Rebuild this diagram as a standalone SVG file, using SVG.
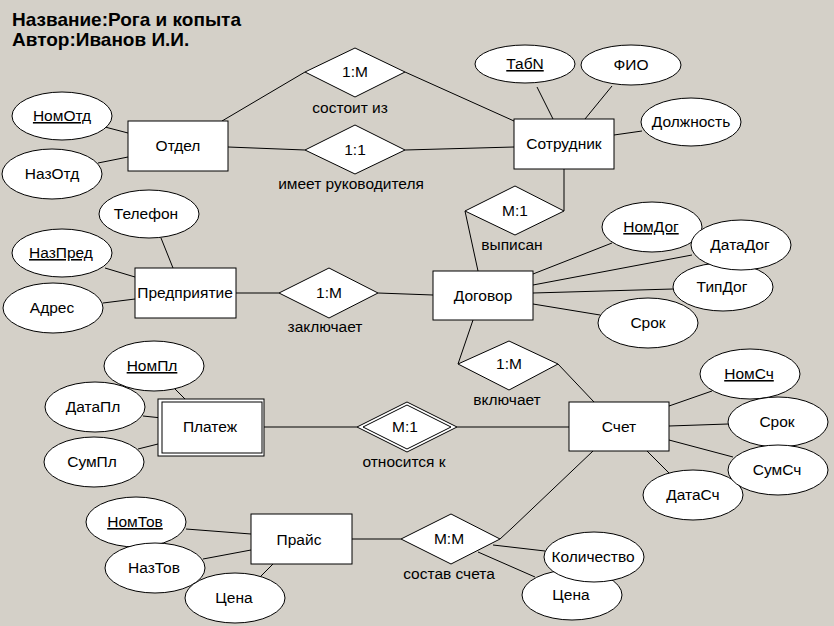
<svg xmlns="http://www.w3.org/2000/svg" width="834" height="626" viewBox="0 0 834 626">
<style>
  .bg{fill:#d4d0c8}
  .ent{fill:#ffffff;stroke:#000;stroke-width:1}
  .attr{fill:#ffffff;stroke:#000;stroke-width:1}
  .rel{fill:#ffffff;stroke:#000;stroke-width:1}
  .conn line,.conn polyline{stroke:#000;stroke-width:1;fill:none}
  text{font-family:"Liberation Sans",Arial,sans-serif;font-size:15.5px;fill:#000}
  .c{text-anchor:middle}
  .key{text-decoration:underline}
  .title{font-size:19px;font-weight:bold}
</style>
<rect class="bg" x="0" y="0" width="834" height="626"/>
<g id="title">
  <text class="title" x="12" y="26">Название:Рога и копыта</text>
  <text class="title" x="12" y="46">Автор:Иванов И.И.</text>
</g>
<g class="conn" id="connectors">
  <line x1="105" y1="127" x2="128" y2="133"/>
  <line x1="98" y1="163" x2="128" y2="157"/>
  <line x1="222" y1="121" x2="305" y2="72"/>
  <line x1="228" y1="147" x2="305" y2="150"/>
  <line x1="405" y1="72" x2="514" y2="121"/>
  <line x1="405" y1="150" x2="514" y2="147"/>
  <line x1="537" y1="87" x2="553" y2="119"/>
  <line x1="612" y1="86" x2="585" y2="119"/>
  <line x1="614" y1="135" x2="642" y2="131"/>
  <polyline points="564,169 564,211"/>
  <line x1="465" y1="211" x2="478" y2="271"/>
  <line x1="533" y1="274" x2="612" y2="243"/>
  <line x1="533" y1="285" x2="692" y2="255"/>
  <line x1="533" y1="293" x2="673" y2="289"/>
  <line x1="533" y1="304" x2="600" y2="315"/>
  <line x1="161" y1="238" x2="173" y2="268"/>
  <line x1="105" y1="268" x2="135" y2="277"/>
  <line x1="103" y1="303" x2="135" y2="299"/>
  <line x1="236" y1="293" x2="279" y2="293"/>
  <line x1="378" y1="293" x2="433" y2="295"/>
  <line x1="473" y1="320" x2="458" y2="364"/>
  <line x1="558" y1="364" x2="594" y2="402"/>
  <line x1="175" y1="389" x2="188" y2="402"/>
  <line x1="143" y1="416" x2="162" y2="418"/>
  <line x1="138" y1="449" x2="162" y2="443"/>
  <line x1="264" y1="427" x2="357" y2="427"/>
  <line x1="457" y1="427" x2="569" y2="427"/>
  <line x1="669" y1="406" x2="712" y2="391"/>
  <line x1="669" y1="426" x2="728" y2="424"/>
  <line x1="669" y1="440" x2="733" y2="457"/>
  <line x1="647" y1="451" x2="669" y2="473"/>
  <line x1="186" y1="529" x2="251" y2="534"/>
  <line x1="203" y1="559" x2="251" y2="550"/>
  <line x1="260" y1="577" x2="273" y2="564"/>
  <line x1="352" y1="539" x2="401" y2="539"/>
  <polyline points="500,539 512,528 593,451"/>
  <line x1="493" y1="545" x2="545" y2="551"/>
  <line x1="478" y1="552" x2="535" y2="577"/>
</g>
<g id="otdel">
  <rect class="ent" x="128" y="121" width="100" height="50"/>
  <text class="c" x="178" y="151">Отдел</text>
</g>
<g id="nomotd">
  <ellipse class="attr" cx="62" cy="116" rx="50" ry="24"/>
  <text class="c key" x="62" y="121">НомОтд</text>
</g>
<g id="nazotd">
  <ellipse class="attr" cx="52" cy="174" rx="50" ry="25"/>
  <text class="c" x="52" y="179">НазОтд</text>
</g>
<g id="rel-sostoit">
  <polygon class="rel" points="305,72 355,48 405,72 355,97"/>
  <text class="c" x="355" y="77">1:M</text>
  <text class="c" x="350" y="113">состоит из</text>
</g>
<g id="rel-rukov">
  <polygon class="rel" points="305,150 355,125 405,150 355,174"/>
  <text class="c" x="355" y="155">1:1</text>
  <text class="c" x="351" y="189">имеет руководителя</text>
</g>
<g id="sotrudnik">
  <rect class="ent" x="514" y="119" width="100" height="50"/>
  <text class="c" x="564" y="149">Сотрудник</text>
</g>
<g id="tabn">
  <ellipse class="attr" cx="525" cy="64" rx="50" ry="19"/>
  <text class="c key" x="525" y="69">ТабN</text>
</g>
<g id="fio">
  <ellipse class="attr" cx="631" cy="65" rx="50" ry="20"/>
  <text class="c" x="631" y="70">ФИО</text>
</g>
<g id="dolzhnost">
  <ellipse class="attr" cx="691" cy="122" rx="50" ry="24"/>
  <text class="c" x="691" y="127">Должность</text>
</g>
<g id="rel-vypisan">
  <polygon class="rel" points="465,211 515,186 564,211 515,235"/>
  <text class="c" x="515" y="216">M:1</text>
  <text class="c" x="512" y="250">выписан</text>
</g>
<g id="dogovor">
  <rect class="ent" x="433" y="271" width="100" height="49"/>
  <text class="c" x="483" y="301">Договор</text>
</g>
<g id="nomdog">
  <ellipse class="attr" cx="652" cy="227" rx="50" ry="25"/>
  <text class="c key" x="651" y="232">НомДог</text>
</g>
<g id="tipdog">
  <ellipse class="attr" cx="723" cy="287" rx="50" ry="24"/>
  <text class="c" x="722" y="292">ТипДог</text>
</g>
<g id="datadog">
  <ellipse class="attr" cx="741" cy="245" rx="50" ry="25"/>
  <text class="c" x="740" y="250">ДатаДог</text>
</g>
<g id="srokdog">
  <ellipse class="attr" cx="648" cy="323" rx="50" ry="25"/>
  <text class="c" x="648" y="328">Срок</text>
</g>
<g id="predpr">
  <rect class="ent" x="135" y="268" width="101" height="50"/>
  <text class="c" x="185" y="298">Предприятие</text>
</g>
<g id="telefon">
  <ellipse class="attr" cx="149" cy="214" rx="50" ry="24"/>
  <text class="c" x="146" y="219">Телефон</text>
</g>
<g id="nazpred">
  <ellipse class="attr" cx="62" cy="253" rx="50" ry="24"/>
  <text class="c key" x="61" y="258">НазПред</text>
</g>
<g id="adres">
  <ellipse class="attr" cx="53" cy="308" rx="50" ry="25"/>
  <text class="c" x="52" y="313">Адрес</text>
</g>
<g id="rel-zakl">
  <polygon class="rel" points="279,293 329,268 378,293 329,318"/>
  <text class="c" x="329" y="298">1:M</text>
  <text class="c" x="325" y="332">заключает</text>
</g>
<g id="rel-vkl">
  <polygon class="rel" points="458,364 509,341 558,364 509,390"/>
  <text class="c" x="509" y="369">1:M</text>
  <text class="c" x="507" y="405">включает</text>
</g>
<g id="platezh">
  <rect class="ent" x="158" y="399" width="106" height="57"/>
  <rect class="ent" x="162" y="402" width="100" height="51"/>
  <text class="c" x="210" y="432">Платеж</text>
</g>
<g id="nompl">
  <ellipse class="attr" cx="154" cy="366" rx="50" ry="25"/>
  <text class="c key" x="152" y="371">НомПл</text>
</g>
<g id="datapl">
  <ellipse class="attr" cx="95" cy="407" rx="50" ry="25"/>
  <text class="c" x="93" y="412">ДатаПл</text>
</g>
<g id="sumpl">
  <ellipse class="attr" cx="94" cy="462" rx="50" ry="25"/>
  <text class="c" x="92" y="467">СумПл</text>
</g>
<g id="rel-otnos">
  <polygon class="rel" points="357,427 407,402 457,427 407,452"/>
  <polygon class="rel" points="363,427 407,405 451,427 407,449"/>
  <text class="c" x="405" y="432">M:1</text>
  <text class="c" x="404" y="467">относится к</text>
</g>
<g id="schet">
  <rect class="ent" x="569" y="402" width="100" height="49"/>
  <text class="c" x="619" y="432">Счет</text>
</g>
<g id="nomsch">
  <ellipse class="attr" cx="750" cy="374" rx="50" ry="25"/>
  <text class="c key" x="749" y="379">НомСч</text>
</g>
<g id="sroksch">
  <ellipse class="attr" cx="778" cy="422" rx="50" ry="25"/>
  <text class="c" x="777" y="427">Срок</text>
</g>
<g id="datasch">
  <ellipse class="attr" cx="693" cy="495" rx="50" ry="25"/>
  <text class="c" x="693" y="500">ДатаСч</text>
</g>
<g id="sumsch">
  <ellipse class="attr" cx="778" cy="470" rx="50" ry="25"/>
  <text class="c" x="777" y="475">СумСч</text>
</g>
<g id="prais">
  <rect class="ent" x="251" y="514" width="101" height="50"/>
  <text class="c" x="299" y="545">Прайс</text>
</g>
<g id="nomtov">
  <ellipse class="attr" cx="136" cy="522" rx="50" ry="25"/>
  <text class="c key" x="135" y="527">НомТов</text>
</g>
<g id="naztov">
  <ellipse class="attr" cx="155" cy="568" rx="50" ry="25"/>
  <text class="c" x="154" y="573">НазТов</text>
</g>
<g id="cena1">
  <ellipse class="attr" cx="235" cy="598" rx="50" ry="25"/>
  <text class="c" x="234" y="603">Цена</text>
</g>
<g id="rel-sostav">
  <polygon class="rel" points="401,539 451,514 500,539 451,564"/>
  <text class="c" x="449" y="544">M:M</text>
  <text class="c" x="449" y="579">состав счета</text>
</g>
<g id="cena2">
  <ellipse class="attr" cx="572" cy="595" rx="50" ry="25"/>
  <text class="c" x="571" y="600">Цена</text>
</g>
<g id="kolichestvo">
  <ellipse class="attr" cx="594" cy="557" rx="50" ry="25"/>
  <text class="c" x="593" y="562">Количество</text>
</g>
</svg>
